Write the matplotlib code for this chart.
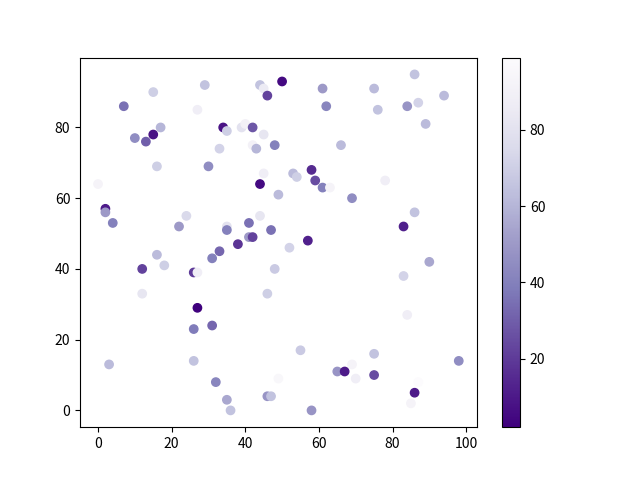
import matplotlib
matplotlib.use("Agg")
import matplotlib.pyplot as plt
import numpy as np

plt.rcParams['font.family'] = ['Noto Sans CJK SC', 'DejaVu Sans']

# point positions and colour values
x = [7, 15, 29, 44, 45, 46, 50, 27, 17, 15, 10, 13, 34, 35, 39, 40, 42, 45, 48, 42,
     43, 33, 16, 30, 45, 44, 49, 0, 2, 2, 4, 24, 22, 35, 35, 41, 44, 47, 41, 42,
     38, 33, 61, 62, 75, 76, 86, 94, 84, 87, 89, 66, 58, 53, 54, 59, 61, 63, 78, 69,
     83, 86, 57, 52, 31, 16, 18, 12, 26, 27, 48, 12, 46, 27, 26, 31, 3, 26, 32, 35,
     36, 46, 47, 49, 90, 83, 84, 55, 75, 98, 65, 67, 69, 70, 75, 86, 87, 85, 58]
y = [86, 90, 92, 92, 91, 89, 93, 85, 80, 78, 77, 76, 80, 79, 80, 81, 80, 78, 75, 75,
     74, 74, 69, 69, 67, 64, 61, 64, 57, 56, 53, 55, 52, 52, 51, 53, 55, 51, 49, 49,
     47, 45, 91, 86, 91, 85, 95, 89, 86, 87, 81, 75, 68, 67, 66, 65, 63, 63, 65, 60,
     52, 56, 48, 46, 43, 44, 41, 40, 39, 39, 40, 33, 33, 29, 23, 24, 13, 14, 8, 3,
     0, 4, 4, 9, 42, 38, 27, 17, 16, 14, 11, 11, 13, 9, 10, 5, 8, 2, 0]
c = [35, 70, 65, 65, 85, 22, 5, 88, 60, 8, 45, 30, 8, 70, 80, 90, 28, 82, 40, 90,
     60, 72, 70, 45, 88, 5, 62, 92, 10, 50, 40, 75, 50, 80, 40, 35, 82, 35, 50, 22,
     18, 32, 50, 42, 62, 65, 65, 62, 48, 72, 62, 62, 15, 62, 70, 25, 40, 92, 88, 45,
     12, 65, 12, 72, 40, 62, 70, 22, 20, 88, 68, 82, 70, 2, 38, 32, 62, 65, 42, 55,
     65, 48, 65, 95, 55, 72, 88, 68, 65, 45, 48, 10, 92, 88, 25, 10, 99, 92, 48]

fig, ax = plt.subplots(figsize=(6.4, 4.8), dpi=100)
sc = ax.scatter(x, y, c=c, cmap='Purples_r')
fig.colorbar(sc)

plt.savefig("out.png")
